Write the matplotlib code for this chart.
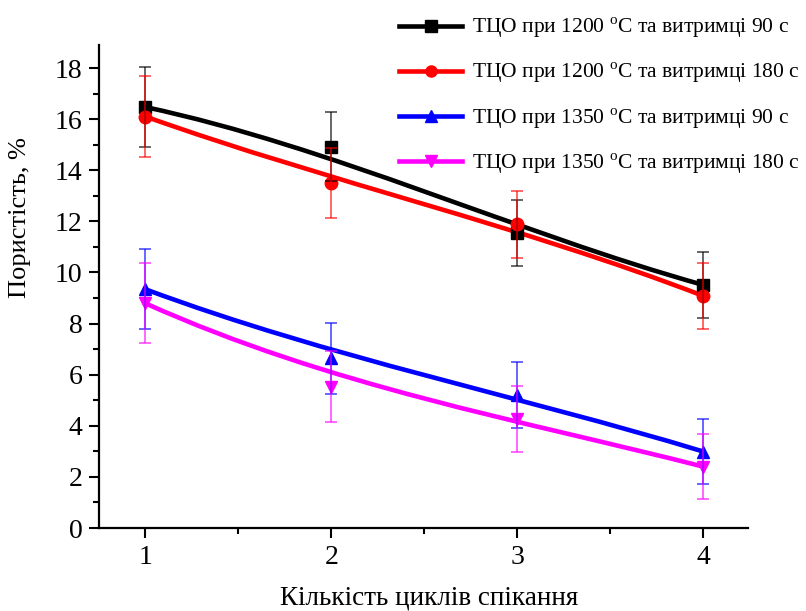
import matplotlib
matplotlib.use("Agg")
import matplotlib.pyplot as plt
from matplotlib.path import Path
from matplotlib.patches import PathPatch
from matplotlib.lines import Line2D

plt.rcParams['font.family'] = ['Liberation Serif', 'DejaVu Serif']
plt.rcParams['mathtext.fontset'] = 'custom'
plt.rcParams['mathtext.rm'] = 'Liberation Serif'

# Sintering cycles and measured porosity (%) with standard deviations
cycles = [1, 2, 3, 4]
por_1200_90 = [16.47, 14.92, 11.54, 9.51]
err_1200_90 = [1.58, 1.34, 1.30, 1.28]
por_1200_180 = [16.10, 13.51, 11.88, 9.08]
err_1200_180 = [1.58, 1.37, 1.30, 1.28]
por_1350_90 = [9.34, 6.64, 5.20, 2.99]
err_1350_90 = [1.56, 1.38, 1.29, 1.28]
por_1350_180 = [8.79, 5.53, 4.25, 2.40]
err_1350_180 = [1.57, 1.39, 1.29, 1.28]

labels = [
    "ТЦО при 1200 $^{\\mathrm{o}}$С та витримці 90 с",
    "ТЦО при 1200 $^{\\mathrm{o}}$С та витримці 180 с",
    "ТЦО при 1350 $^{\\mathrm{o}}$С та витримці 90 с",
    "ТЦО при 1350 $^{\\mathrm{o}}$С та витримці 180 с",
]
colors = ["#000000", "#ff0000", "#0000ff", "#ff00ff"]
markers = ["s", "o", "^", "v"]
series = [(por_1200_90, err_1200_90), (por_1200_180, err_1200_180),
          (por_1350_90, err_1350_90), (por_1350_180, err_1350_180)]

W, H = 806, 611
fig = plt.figure(figsize=(W / 100, H / 100), dpi=100)
ax = fig.add_axes([99 / W, 1 - 528 / H, (748 - 99) / W, (528 - 45) / H])

lw = 3.3
handles = []
for (vals, errs), c, m, lab in zip(series, colors, markers, labels):
    # B-spline style connecting curve using the points as Bezier control points
    verts = list(zip(cycles, vals))
    codes = [Path.MOVETO] + [Path.CURVE4] * (len(verts) - 1)
    ax.add_patch(PathPatch(Path(verts, codes), facecolor='none', edgecolor=c,
                           lw=lw, zorder=2, capstyle='butt'))
    ax.plot(cycles, vals, linestyle='none', marker=m, ms=9, color=c,
            mec=c, zorder=3)
    ax.errorbar(cycles, vals, yerr=errs, fmt='none', ecolor=c, elinewidth=1.4,
                capsize=4.5, capthick=1.4, alpha=0.6, zorder=4)
    handles.append(Line2D([], [], color=c, lw=lw, marker=m, ms=8, label=lab))

ax.set_xlim(0.75, 4.24)
ax.set_ylim(0, 18.9)
ax.set_xticks([1, 2, 3, 4])
ax.set_xticks([1.5, 2.5, 3.5], minor=True)
ax.set_yticks(range(0, 19, 2))
ax.set_yticks(range(1, 19, 2), minor=True)

for s in ['top', 'right']:
    ax.spines[s].set_visible(False)
for s in ['left', 'bottom']:
    ax.spines[s].set_linewidth(1.6)

ax.tick_params(axis='both', which='major', direction='out', length=7, width=1.5,
               labelsize=20, pad=5)
ax.tick_params(axis='both', which='minor', direction='out', length=4, width=1.5)

ax.set_xlabel("Кількість циклів спікання", fontsize=19.5, va='baseline')
ax.xaxis.set_label_coords((429 - 99) / 649, (528 - 605) / 483)
ax.set_ylabel("Пористість, %", fontsize=19, va='center', ha='center')
ax.yaxis.set_label_coords((20 - 99) / 649, (528 - 218) / 483)

fig.legend(handles=handles, loc='upper left',
           bbox_to_anchor=(399 / W, 1 - 16 / H),
           frameon=False, fontsize=15.5, handlelength=2.93, labelspacing=0.96,
           handletextpad=0.47, borderaxespad=0, borderpad=0)

fig.savefig("out.png", dpi=100)
